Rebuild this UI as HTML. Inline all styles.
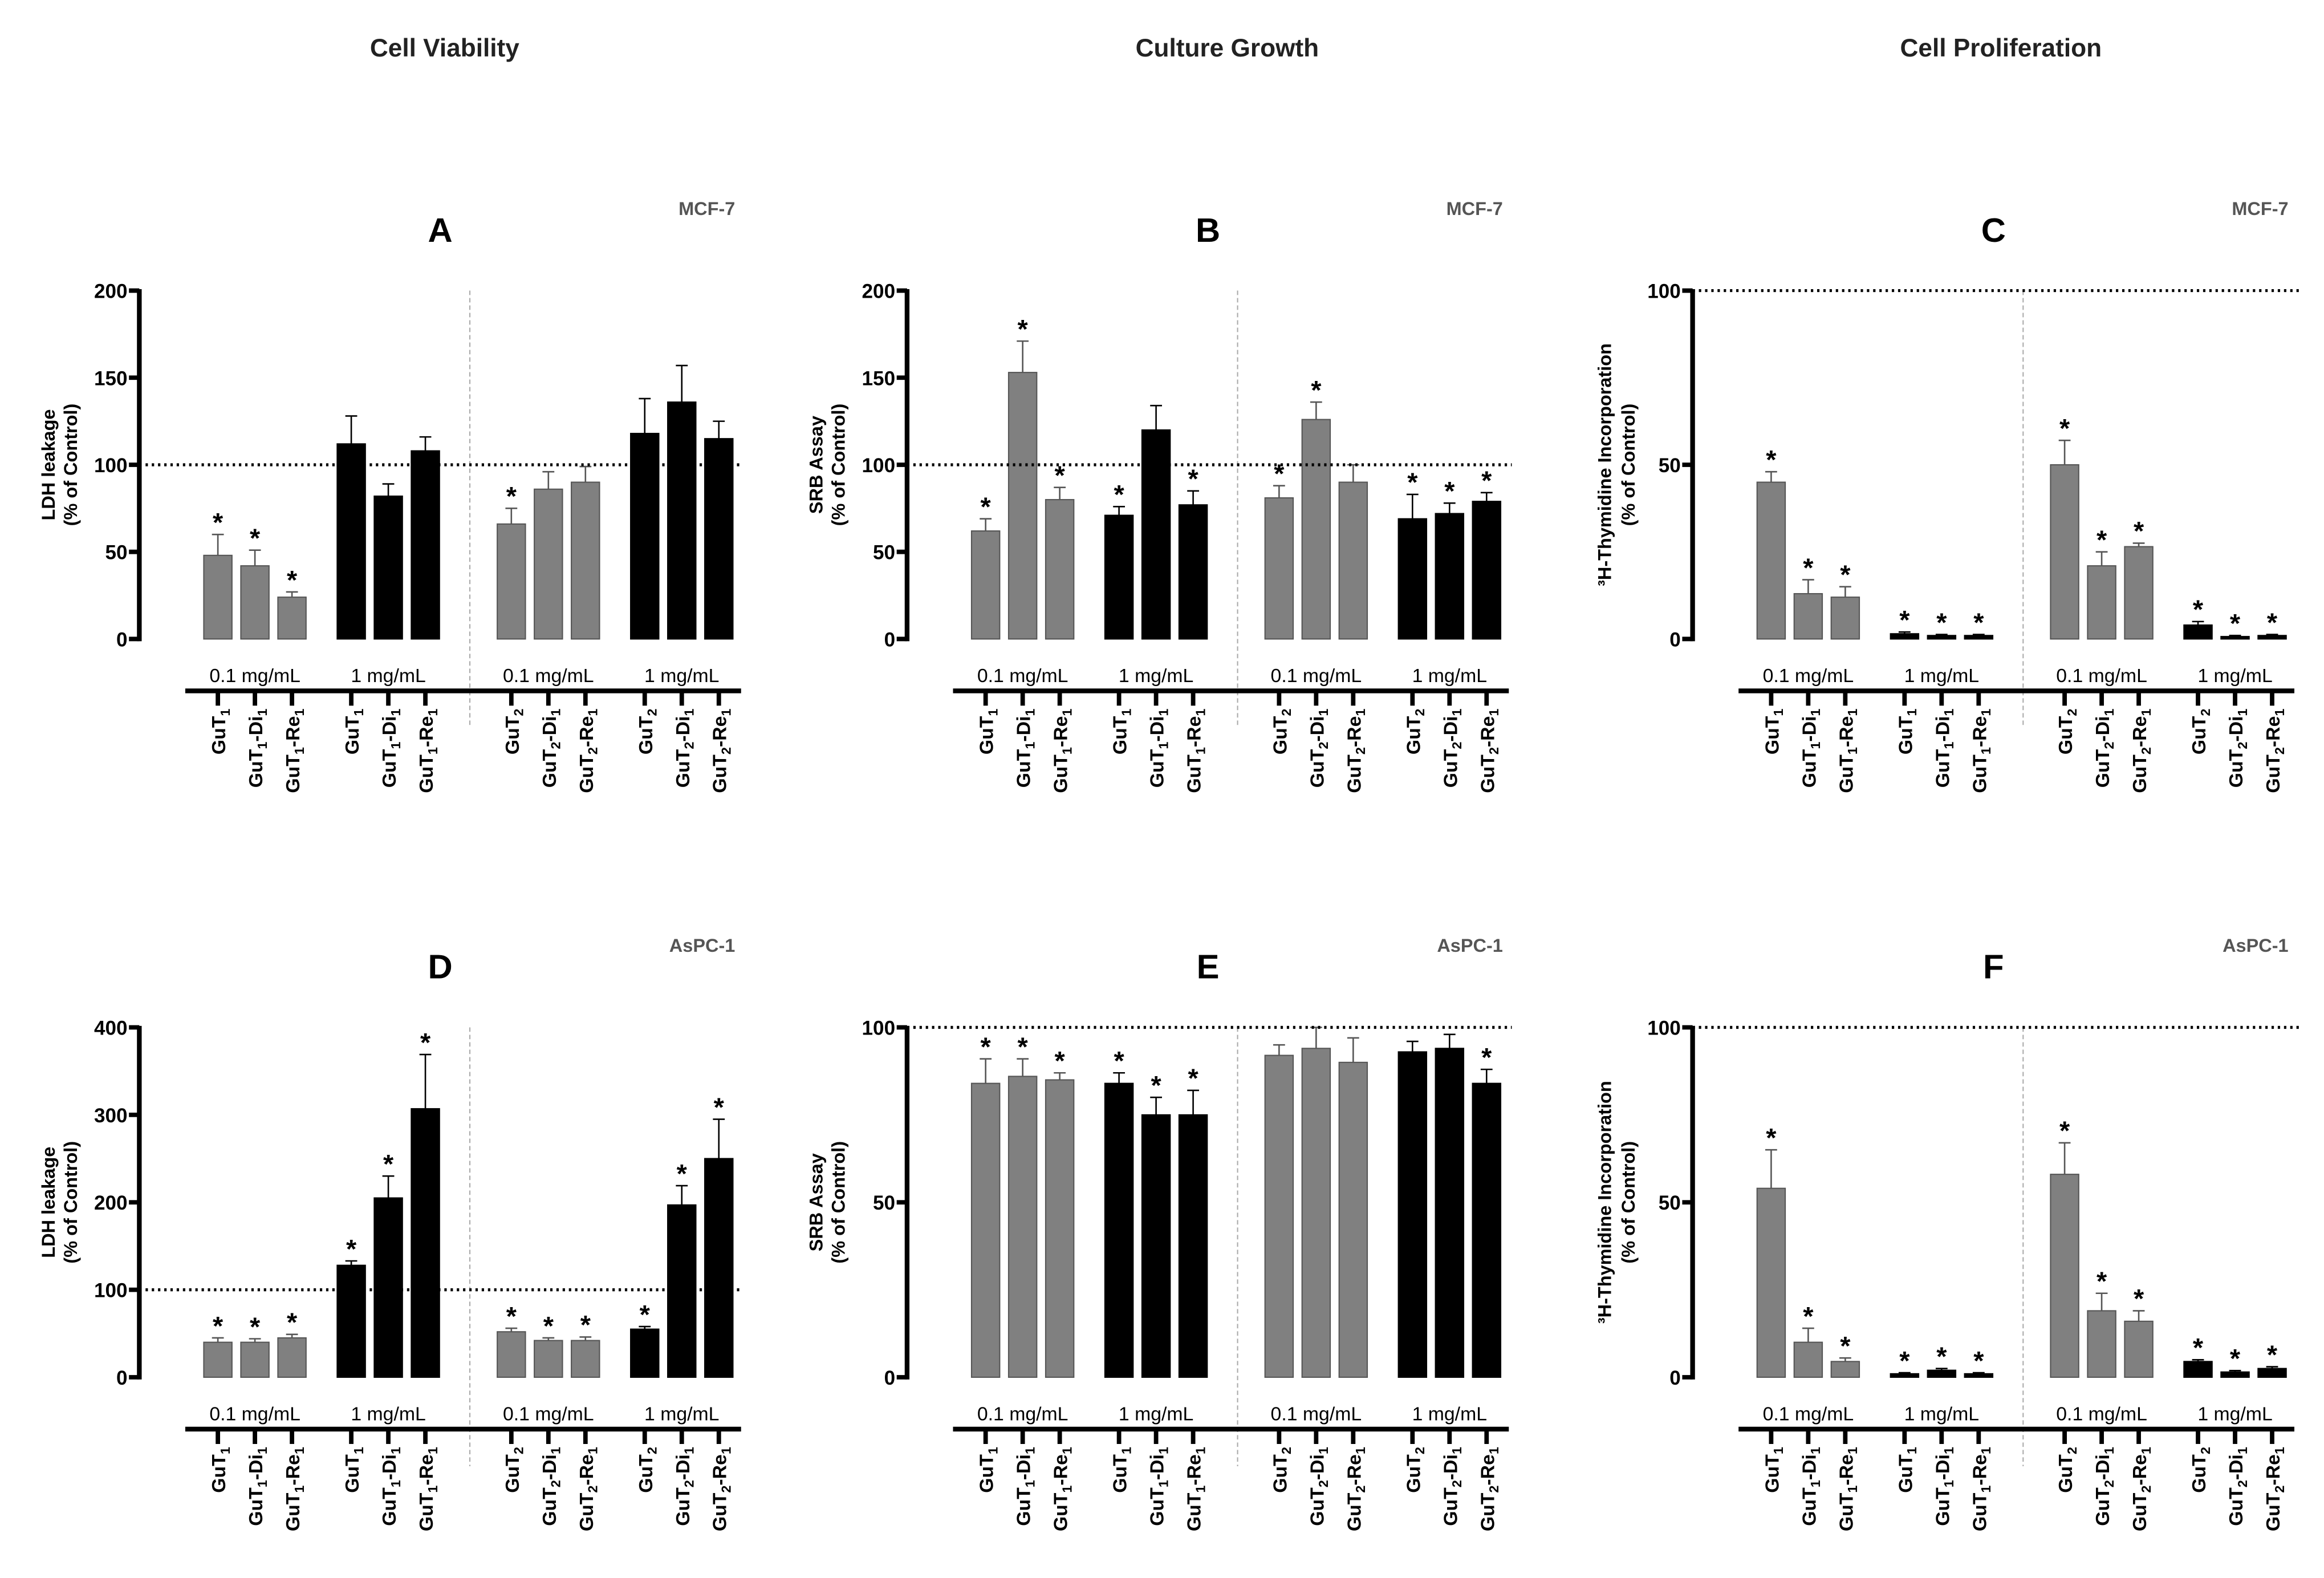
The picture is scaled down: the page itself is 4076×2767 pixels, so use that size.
<!DOCTYPE html>
<html><head><meta charset="utf-8">
<style>
html,body{margin:0;padding:0;background:#fff;}
svg{display:block;font-family:"Liberation Sans",Arial,sans-serif;}
</style></head>
<body>
<svg id="fig" width="4076" height="2767" viewBox="0 0 1568 1064.4" xmlns="http://www.w3.org/2000/svg">
<text x="300" y="38" font-size="17" font-weight="bold" text-anchor="middle" fill="#222">Cell Viability</text>
<text x="828" y="38" font-size="17" font-weight="bold" text-anchor="middle" fill="#222">Culture Growth</text>
<text x="1350" y="38" font-size="17" font-weight="bold" text-anchor="middle" fill="#222">Cell Proliferation</text>
</svg>
<script>
const NS="http://www.w3.org/2000/svg";
const svg=document.getElementById('fig');
const groupLabels=["0.1 mg/mL","1 mg/mL","0.1 mg/mL","1 mg/mL"];
const catBase=["GuT|1|","GuT|1|-Di|1|","GuT|1|-Re|1|","GuT|1|","GuT|1|-Di|1|","GuT|1|-Re|1|","GuT|2|","GuT|2|-Di|1|","GuT|2|-Re|1|","GuT|2|","GuT|2|-Di|1|","GuT|2|-Re|1|"];
const barColors=["g","g","g","b","b","b","g","g","g","b","b","b"];

const aVals=[48,42,24,112,82,108,66,86,90,118,136,115];
const aErr=[12,9,3,16,7,8,9,10,9,20,21,10];
const aSig=[1,1,1,0,0,0,1,0,0,0,0,0];
const aTicks=[0,50,100,150,200];
const bVals=[62,153,80,71,120,77,81,126,90,69,72,79];
const bErr=[7,18,7,5,14,8,7,10,10,14,6,5];
const bSig=[1,1,1,1,0,1,1,1,0,1,1,1];
const bTicks=[0,50,100,150,200];
const cVals=[45,13,12,1.5,1,1,50,21,26.5,4,0.7,1];
const cErr=[3,4,3,0.5,0.3,0.3,7,4,1,1,0.3,0.3];
const cSig=[1,1,1,1,1,1,1,1,1,1,1,1];
const cTicks=[0,50,100];
const dVals=[40,40,45,128,205,307,52,42,42,55,197,250];
const dErr=[5,4,4,5,25,62,4,3,4,3,22,45];
const dSig=[1,1,1,1,1,1,1,1,1,1,1,1];
const dTicks=[0,100,200,300,400];
const eVals=[84,86,85,84,75,75,92,94,90,93,94,84];
const eErr=[7,5,2,3,5,7,3,6,7,3,4,4];
const eSig=[1,1,1,1,1,1,0,0,0,0,0,1];
const eTicks=[0,50,100];
const fVals=[54,10,4.5,1,2,1,58,19,16,4.5,1.5,2.5];
const fErr=[11,4,1,0.3,0.5,0.3,9,5,3,0.5,0.4,0.5];
const fSig=[1,1,1,1,1,1,1,1,1,1,1,1];
const fTicks=[0,50,100];

function el(tag,attrs,parent){const e=document.createElementNS(NS,tag);for(const k in attrs)e.setAttribute(k,attrs[k]);(parent||svg).appendChild(e);return e;}

const panels=[
 {id:'a',letter:'A',cell:'MCF-7',ax:94,top:196,bot:431,max:200,vals:aVals,err:aErr,sig:aSig,ticks:aTicks,ref:100,refEnd:500,lab:['LDH leakage','(% of Control)'],lo:[-57,-42]},
 {id:'b',letter:'B',cell:'MCF-7',ax:612,top:196,bot:431,max:200,vals:bVals,err:bErr,sig:bSig,ticks:bTicks,ref:100,refEnd:1020,lab:['SRB Assay','(% of Control)'],lo:[-57,-42]},
 {id:'c',letter:'C',cell:'MCF-7',ax:1142,top:196,bot:431,max:100,vals:cVals,err:cErr,sig:cSig,ticks:cTicks,ref:100,refEnd:1553,lab:['³H-Thymidine Incorporation','(% of Control)'],lo:[-55,-39]},
 {id:'d',letter:'D',cell:'AsPC-1',ax:94,top:693,bot:929,max:400,vals:dVals,err:dErr,sig:dSig,ticks:dTicks,ref:100,refEnd:500,lab:['LDH leakage','(% of Control)'],lo:[-57,-42]},
 {id:'e',letter:'E',cell:'AsPC-1',ax:612,top:693,bot:929,max:100,vals:eVals,err:eErr,sig:eSig,ticks:eTicks,ref:100,refEnd:1020,lab:['SRB Assay','(% of Control)'],lo:[-57,-42]},
 {id:'f',letter:'F',cell:'AsPC-1',ax:1142,top:693,bot:929,max:100,vals:fVals,err:fErr,sig:fSig,ticks:fTicks,ref:100,refEnd:1553,lab:['³H-Thymidine Incorporation','(% of Control)'],lo:[-55,-39]}
];

panels.forEach(p=>{
 const g=el('g',{});
 
 
 const y=v=>p.bot-(v/p.max)*(p.bot-p.top);
 const off=p.ax-94;
 const xs=c=>{const grp=Math.floor(c/3),k=c%3;return 147+off+[0,90,198,288][grp]+k*25;};
 const t=el('text',{x:p.ax+203,y:p.top-33,'font-size':23,'font-weight':'bold','text-anchor':'middle'},g);t.textContent=p.letter;
 
 const cl=el('text',{x:p.ax+402,y:p.top-51,'font-size':12.5,'font-weight':'bold','text-anchor':'end',fill:'#555'},g);cl.textContent=p.cell;
 
 const dv=el('line',{x1:xs(5)+30,x2:xs(5)+30,y1:p.top,y2:p.bot+60,stroke:'#aaa','stroke-width':0.8,'stroke-dasharray':'3,2'},g);
 
 p.vals.forEach((v,i)=>{
  const cx=xs(i),w=19;
  const fill=barColors[i]==='g'?'#808080':'#000';
  const r=el('rect',{x:cx-w/2,y:y(v),width:w,height:Math.max(p.bot-y(v),0.1),fill:fill,stroke:barColors[i]==='g'?'#555':'#000','stroke-width':0.8},g);
  
  const te=y(v+p.err[i]);
  const eb=el('path',{d:`M${cx} ${y(v)}V${te}M${cx-4} ${te}H${cx+4}`,stroke:barColors[i]==='g'?'#555':'#000','stroke-width':1,fill:'none'},g);
  
  if(p.sig[i]){const s=el('text',{x:cx,y:te-2,'font-size':18,'font-weight':'bold','text-anchor':'middle'},g);s.textContent='*';
   }
 });
 const rl=el('line',{x1:p.ax,x2:p.refEnd,y1:y(p.ref),y2:y(p.ref),stroke:'#000','stroke-width':2,'stroke-dasharray':'1.6,2.6'},g);
 
 const ya=el('line',{x1:p.ax,x2:p.ax,y1:p.top-1,y2:p.bot+1.5,stroke:'#000','stroke-width':3.2},g);
 
 p.ticks.forEach(tv=>{
  el('line',{x1:p.ax-7,x2:p.ax,y1:y(tv),y2:y(tv),stroke:'#000','stroke-width':3},g);
  const tl=el('text',{x:p.ax-8,y:y(tv)+5,'font-size':13.5,'font-weight':'bold','text-anchor':'end'},g);tl.textContent=tv;
  
 });
 const cy=(p.top+p.bot)/2;
 p.lab.forEach((s,k)=>{
  const lx=p.ax+p.lo[k];
  const yl=el('text',{x:lx,y:cy,'font-size':12.5,'font-weight':'bold','text-anchor':'middle',transform:`rotate(-90 ${lx} ${cy})`},g);yl.textContent=s;
  
 });
 const gy=p.bot+35;
 const xl=el('line',{x1:xs(0)-22,x2:xs(11)+15,y1:gy,y2:gy,stroke:'#000','stroke-width':3.2},g);
 
 groupLabels.forEach((s,k)=>{
  const gl=el('text',{x:xs(k*3+1),y:gy-6,'font-size':13,'text-anchor':'middle'},g);gl.textContent=s;
  
 });
 catBase.forEach((c,i)=>{
  const cx=xs(i);
  el('line',{x1:cx,x2:cx,y1:gy,y2:gy+10,stroke:'#000','stroke-width':3},g);
  const tx=el('text',{x:cx+5,y:gy+12,'font-size':13,'font-weight':'bold','text-anchor':'end',transform:`rotate(-90 ${cx+5} ${gy+12})`},g);
  
  const parts=c.split('|');
  parts.forEach((pt,j)=>{if(!pt)return;const ts=el('tspan',j%2?{'font-size':9,dy:3}:(j>0?{dy:-3}:{}),tx);ts.textContent=pt;});
 });
});
</script>
</body></html>
